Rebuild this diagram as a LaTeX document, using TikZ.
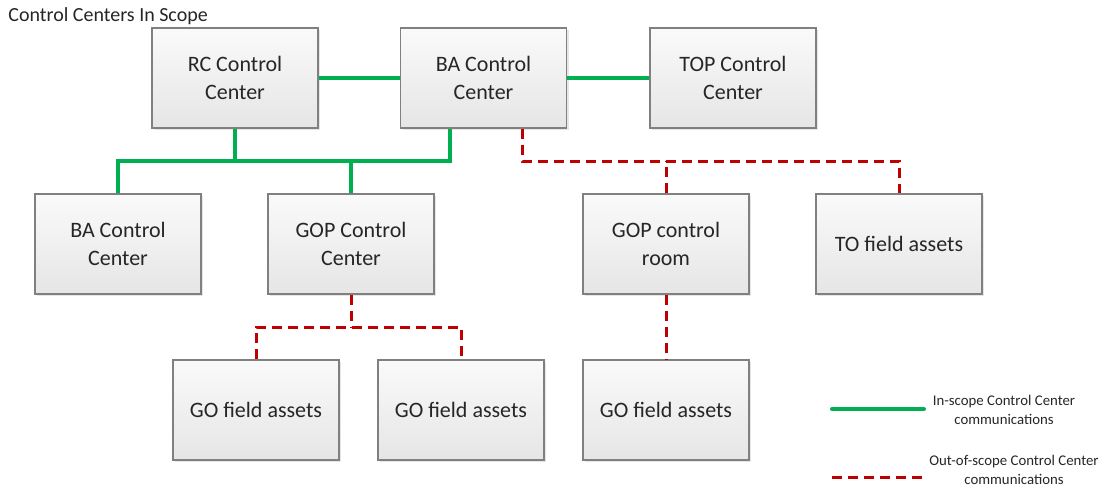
\documentclass[tikz,border=0pt]{standalone}
\usepackage{fontspec}
\setmainfont{Carlito}
\usetikzlibrary{shadows, positioning, calc}
\definecolor{ccgreen}{HTML}{00B050}
\definecolor{ccred}{HTML}{C00000}

\begin{document}
\begin{tikzpicture}[x=0.5pt, y=-0.5pt,
    ccbox/.style={draw=black!50, line width=0.6pt, top color=black!2, bottom color=black!10,
                  minimum width=83pt, minimum height=50pt, align=center, text=black!85,
                  font=\fontsize{11}{13.6}\selectfont,
                  drop shadow={shadow xshift=1pt, shadow yshift=-1pt, opacity=0.2}},
    inscope/.style={draw=ccgreen, line width=2pt},
    outscope/.style={draw=ccred, line width=1.5pt, dash pattern=on 5pt off 3pt},
    legtext/.style={align=center, text=black!85, font=\fontsize{7.4}{9.2}\selectfont}]
\useasboundingbox (0,0) rectangle (1103,487);
\node[anchor=west, text=black!85, font=\fontsize{10}{12}\selectfont, inner sep=0pt] (title) at (8,16) {Control Centers In Scope};
% top row
\node[ccbox] (rc) at (235,78) {RC Control\\Center};
\node[ccbox] (batop) at (483.5,78) {BA Control\\Center};
\node[ccbox] (top) at (733,78) {TOP Control\\Center};
% middle row
\node[ccbox] (bal) at (118,244) {BA Control\\Center};
\node[ccbox] (gop) at (351,244) {GOP Control\\Center};
\node[ccbox] (room) at (666,244) {GOP control\\room};
\node[ccbox] (to) at (899,244) {TO field assets};
% bottom row
\node[ccbox] (goa) at (256,410) {GO field assets};
\node[ccbox] (gob) at (461,410) {GO field assets};
\node[ccbox] (goc) at (666,410) {GO field assets};
% bus points
\coordinate (gbus) at (450,161);
\coordinate (rbus) at (522,161);
\coordinate (lbus) at (351,327);
% in-scope links
\draw[inscope] (rc.east) -- (batop.west);
\draw[inscope] (batop.east) -- (top.west);
\draw[inscope] (bal.north) |- (gbus) -- (gbus |- batop.south);
\draw[inscope] (rc.south) -- (rc.south |- gbus);
\draw[inscope] (gop.north) -- (gop.north |- gbus);
% out-of-scope links
\draw[outscope] (rbus |- batop.south) -- (rbus) -| (to.north);
\draw[outscope] (room.north) -- (room.north |- rbus);
\draw[outscope] (room.south) -- (goc.north);
\draw[outscope] (gop.south) -- (lbus);
\draw[outscope] (goa.north) |- (lbus) -| (gob.north);
% legend
\coordinate (gl1) at (832,409);
\coordinate (gl2) at (924,409);
\coordinate (rl1) at (832,477);
\coordinate (rl2) at (924,477);
\draw[inscope, line cap=round] (gl1) -- (gl2);
\draw[outscope] (rl1) -- (rl2);
\node[legtext] (legin) at (1004,410) {In-scope Control Center\\communications};
\node[legtext] (legout) at (1014,470) {Out-of-scope Control Center\\communications};
\end{tikzpicture}
\end{document}
